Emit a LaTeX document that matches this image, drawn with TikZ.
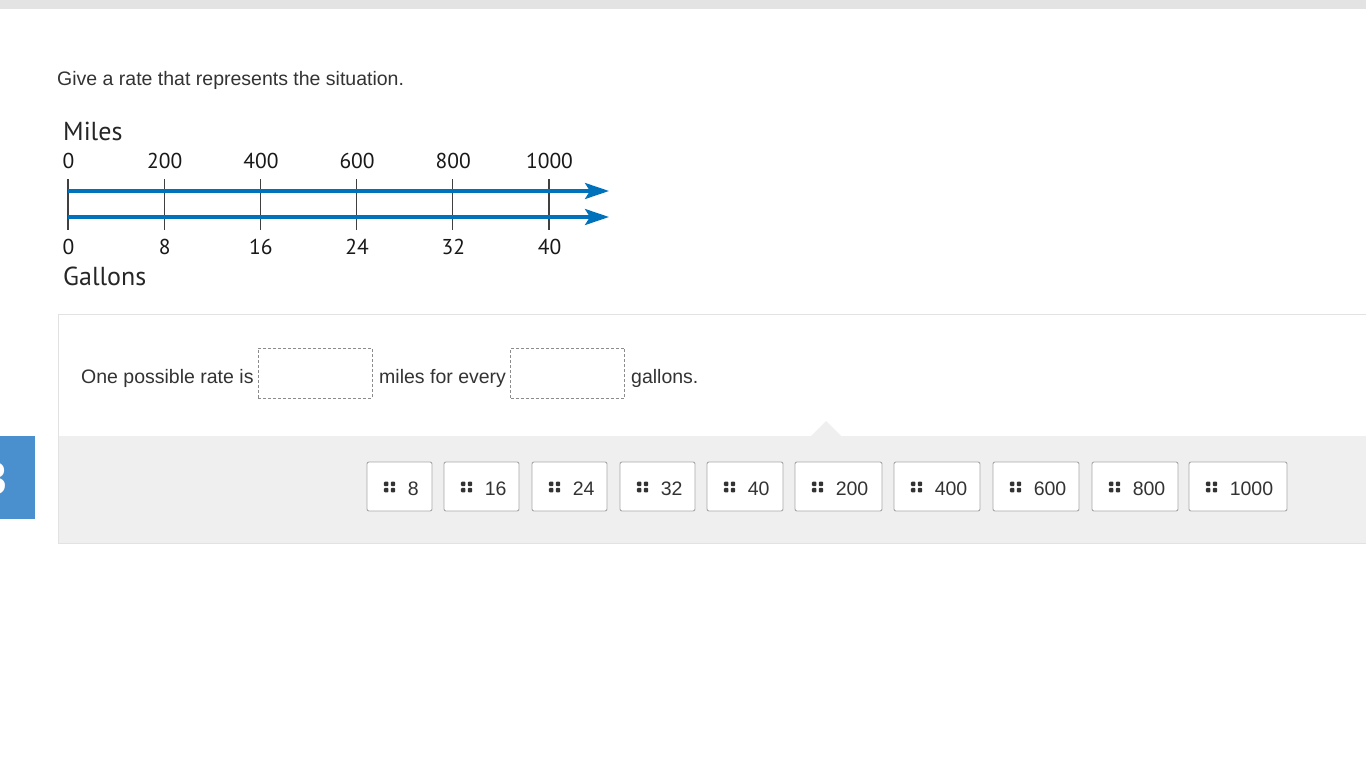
\documentclass[tikz,border=0pt]{standalone}
\usepackage{fontspec}
\setmainfont{Liberation Sans}
\newfontfamily\nlfont{PT Sans}
\usetikzlibrary{arrows.meta,calc}
\definecolor{txt}{HTML}{333333}
\definecolor{nlblue}{RGB}{0,114,188}
\definecolor{panelgray}{HTML}{EFEFEF}
\definecolor{panelborder}{HTML}{E2E2E2}
\definecolor{tabblue}{RGB}{74,144,206}
\definecolor{chipborder}{HTML}{A8A8A8}
\tikzset{
  uitext/.style={font=\fontsize{19.5}{23}\selectfont, text=txt, inner sep=0pt},
  nlnum/.style={font=\nlfont\fontsize{21.5}{25}\selectfont, text=black!90, inner sep=0pt, anchor=base},
  nltitle/.style={font=\nlfont\fontsize{26}{30}\selectfont, text=black!85, inner sep=0pt, anchor=base west},
  nlline/.style={nlblue, line width=3.2pt, -{Stealth[length=24pt, width=16pt, inset=5pt]}},
  nltick/.style={draw=black!75, line width=1.2pt},
  dropbox/.style={draw=black!45, dashed, dash pattern=on 3pt off 2pt, line width=0.9pt, minimum width=114pt, minimum height=50pt, inner sep=0pt},
  chipbox/.style={draw=chipborder, fill=white, rounded corners=2pt, line width=0.9pt, minimum height=49pt, inner sep=0pt},
  handle/.style={fill=txt},
}
\begin{document}
\begin{tikzpicture}[x=1pt,y=-1pt]
\useasboundingbox (0,0) rectangle (1366,768);
\fill[white] (0,0) rectangle (1366,768);
% top bar
\fill[black!11] (0,0) rectangle (1366,9);

% question
\node[uitext, anchor=base west] (q) at (57,85) {Give a rate that represents the situation.};

% number lines
\node[nltitle] (miles) at (63,140.5) {Miles};
\node[nltitle] (gallons) at (63,285) {Gallons};
\coordinate (ts) at (68,191);
\coordinate (te) at (609,191);
\coordinate (bs) at (68,217);
\coordinate (be) at (609,217);
\foreach \i/\m/\g in {0/0/0,1/200/8,2/400/16,3/600/24,4/800/32,5/1000/40}{
  \pgfmathsetmacro\xx{68+96.2*\i}
  \draw[nltick] (\xx,179) -- (\xx,230);
  \node[nlnum] (m\i) at (\xx+0.5,168) {\m};
  \node[nlnum] (g\i) at (\xx+0.5,254.5) {\g};
}
\draw[nlline] (ts) -- (te);
\draw[nlline] (bs) -- (be);

% answer panel
\fill[white] (58,314) rectangle (1370,436);
\fill[panelgray] (58,436) rectangle (1370,543);
\fill[panelgray] (811,436) -- (826,421) -- (841,436) -- cycle;
\draw[panelborder, line width=1pt] (1370,314) -- (58,314) -- (58,543) -- (1370,543);

\node[uitext, anchor=base west] (s1) at (81,383) {One possible rate is};
\node[dropbox] (d1) at (315,373) {};
\node[uitext, anchor=base west] (s2) at (379,383) {miles for every};
\node[dropbox] (d2) at (567.5,373) {};
\node[uitext, anchor=base west] (s3) at (631,383) {gallons.};

% blue tab (its number is cut off at the page edge, as in the reference)
\fill[tabblue] (0,436) rectangle (35,519);
\begin{scope}
  \clip (0,436) rectangle (35,519);
  \node[font=\bfseries\fontsize{46}{50}\selectfont, text=white, inner sep=0pt, anchor=base east] (tabnum) at (7,494) {3};
\end{scope}

% chips
\foreach \l/\r/\v in {367/432/8,444/519/16,532/607/24,620/695/32,707/783/40,795/882/200,894/980/400,993/1079/600,1092/1178/800,1189/1287/1000}{
  \node[chipbox, minimum width=\r-\l] (c\v) at ({(\l+\r)/2},486.5) {};
  \foreach \dx in {-3.4,3.4}{
    \foreach \dy in {-3.1,3.1}{
      \fill[handle, rounded corners=0.9pt] ($(c\v.west)+(23+\dx-2.2,0.5+\dy-2.2)$) rectangle ++(4.4,4.4);
    }
  }
  \node[uitext, anchor=base west] (t\v) at ($(c\v.west)+(41,8.5)$) {\v};
}
\end{tikzpicture}
\end{document}
